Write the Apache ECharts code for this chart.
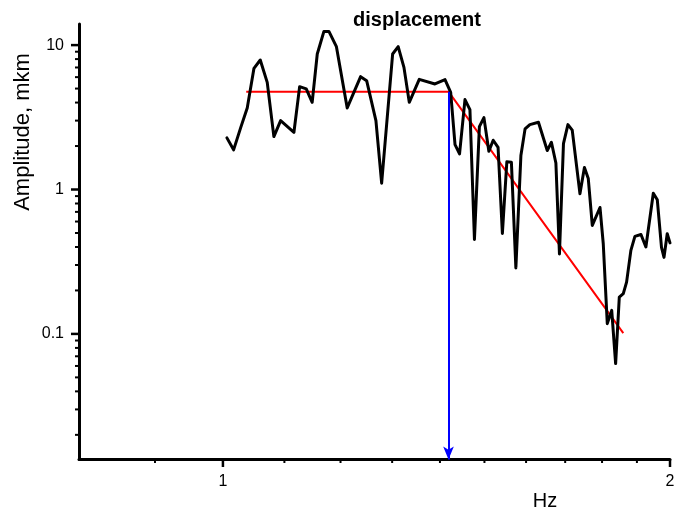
<!DOCTYPE html>
<html>
<head>
<meta charset="utf-8">
<script src="https://cdn.jsdelivr.net/npm/echarts@6/dist/echarts.min.js"></script>
<style>
  html, body { margin: 0; padding: 0; background: #fff; }
  #chart { width: 675px; height: 508px; }
</style>
</head>
<body>
<div id="chart"></div>
<script>
const freq = [1.0062, 1.0167, 1.0278, 1.0384, 1.0493, 1.0596, 1.0711, 1.0822, 1.0936, 1.1164,
  1.1263, 1.1379, 1.1484, 1.1575, 1.1695, 1.1786, 1.1924, 1.2125, 1.2380, 1.2496,
  1.2677, 1.2790, 1.3010, 1.3122, 1.3240, 1.3350, 1.3558, 1.3892, 1.4110, 1.4235,
  1.4331, 1.4432, 1.4554, 1.4666, 1.4769, 1.4883, 1.4988, 1.5103, 1.5205, 1.5320,
  1.5423, 1.5530, 1.5640, 1.5749, 1.5872, 1.5975, 1.6094, 1.6310, 1.6534, 1.6641,
  1.6757, 1.6850, 1.6955, 1.7073, 1.7187, 1.7394, 1.7515, 1.7620, 1.7730, 1.7943,
  1.8034, 1.8147, 1.8272, 1.8383, 1.8488, 1.8603, 1.8698, 1.8823, 1.8941, 1.9120,
  1.9266, 1.9489, 1.9610, 1.9738, 1.9815, 1.9914, 2.0];
const amplitude = [2.278, 1.882, 2.671, 3.673, 6.901, 7.888, 5.521, 2.326, 3.001, 2.490,
  5.156, 4.971, 4.016, 8.679, 12.44, 12.44, 9.748, 3.673, 6.046, 5.673,
  3.001, 1.106, 8.679, 9.748, 7.012, 4.016, 5.791, 5.383, 5.764, 4.708,
  2.048, 1.765, 4.193, 3.575, 0.4511, 2.728, 3.147, 1.840, 2.193, 1.961,
  0.4962, 1.557, 1.545, 0.2866, 1.718, 2.629, 2.815, 2.921, 1.861, 2.124,
  1.525, 0.3581, 2.080, 2.815, 2.579, 0.9338, 1.420, 1.191, 0.5637, 0.7509,
  0.4211, 0.1178, 0.1456, 0.06231, 0.1800, 0.1900, 0.2285, 0.3786, 0.4731, 0.4884,
  0.4002, 0.9428, 0.8487, 0.3971, 0.3387, 0.4940, 0.4266];

// red fit: flat part then slope
const fitFreq = [1.0368, 1.4187, 1.8603];
const fitAmp = [4.761, 4.761, 0.1014];
const cornerFreq = 1.4187;

const xMin = 0.8, xMax = 2;
const yMin = 0.0135, yMax = 14;

const xMajorTicks = [1, 2];
const xMinorTicks = [0.9, 1.1, 1.2, 1.3, 1.4, 1.5, 1.6, 1.7, 1.8, 1.9];
const yMajorTicks = [0.1, 1, 10];
const yMinorTicks = [0.02, 0.03, 0.04, 0.05, 0.06, 0.07, 0.08, 0.09,
  0.2, 0.3, 0.4, 0.5, 0.6, 0.7, 0.8, 0.9, 2, 3, 4, 5, 6, 7, 8, 9];

const FONT = 'Liberation Sans, Arial, sans-serif';

const chart = echarts.init(document.getElementById('chart'));

// [x, y, length, direction(0 = down from x axis, 1 = left of y axis), width]
const tickData = [
  ...xMajorTicks.map(v => [v, yMin, 7.5, 0, 2.5]),
  ...xMinorTicks.map(v => [v, yMin, 3.5, 0, 2]),
  ...yMajorTicks.map(v => [xMin, v, 8, 1, 2.5]),
  ...yMinorTicks.map(v => [xMin, v, 4, 1, 2])
];

function renderTick(params, api) {
  const pt = api.coord([api.value(0), api.value(1)]);
  const len = api.value(2);
  const shape = api.value(3) === 0
    ? { x1: pt[0], y1: pt[1], x2: pt[0], y2: pt[1] + len }
    : { x1: pt[0], y1: pt[1], x2: pt[0] - len, y2: pt[1] };
  return { type: 'line', shape: shape, style: { stroke: '#000', lineWidth: api.value(4) } };
}

const labelFmt = v => String(+Number(v).toPrecision(6));

const option = {
  animation: false,
  backgroundColor: '#fff',
  title: {
    text: 'displacement',
    left: 417,
    top: 10,
    textAlign: 'center',
    padding: 0,
    textStyle: { fontFamily: FONT, fontSize: 20, fontWeight: 'bold', color: '#000' }
  },
  grid: { left: 79, right: 5, top: 24, bottom: 48.5, outerBoundsMode: 'none' },
  xAxis: {
    type: 'log',
    min: xMin,
    max: xMax,
    axisLine: { onZero: false, lineStyle: { color: '#000', width: 3 } },
    axisTick: { show: false },
    splitLine: { show: false },
    axisLabel: {
      customValues: xMajorTicks,
      formatter: labelFmt,
      margin: 14,
      fontFamily: FONT, fontSize: 16, color: '#000'
    }
  },
  yAxis: {
    type: 'log',
    min: yMin,
    max: yMax,
    axisLine: { show: true, onZero: false, lineStyle: { color: '#000', width: 3 } },
    axisTick: { show: false },
    splitLine: { show: false },
    axisLabel: {
      customValues: yMajorTicks,
      formatter: labelFmt,
      margin: 15,
      fontFamily: FONT, fontSize: 16, color: '#000'
    }
  },
  graphic: [
    {
      type: 'text',
      x: 545, y: 501,
      style: { text: 'Hz', font: '20px ' + FONT, fill: '#000', align: 'center', verticalAlign: 'middle' }
    },
    {
      type: 'text',
      x: 23, y: 132,
      rotation: Math.PI / 2,
      style: { text: 'Amplitude, mkm', font: '22px ' + FONT, fill: '#000', align: 'center', verticalAlign: 'middle' }
    }
  ],
  series: [
    {
      type: 'custom',
      clip: false,
      silent: true,
      renderItem: renderTick,
      data: tickData,
      z: 5
    },
    {
      name: 'fit',
      type: 'line',
      data: fitFreq.map((f, i) => [f, fitAmp[i]]),
      showSymbol: false,
      lineStyle: { color: '#ff0000', width: 2 },
      z: 2,
      markLine: {
        silent: true,
        symbol: ['none', 'arrow'],
        symbolSize: [8, 13],
        label: { show: false },
        lineStyle: { color: '#0000ff', width: 2, type: 'solid' },
        data: [[{ coord: [cornerFreq, fitAmp[1]] }, { coord: [cornerFreq, yMin] }]]
      }
    },
    {
      name: 'displacement',
      type: 'line',
      data: freq.map((f, i) => [f, amplitude[i]]),
      showSymbol: false,
      lineStyle: { color: '#000', width: 3, join: 'round', cap: 'round' },
      z: 3
    }
  ]
};

chart.setOption(option);
</script>
</body>
</html>
